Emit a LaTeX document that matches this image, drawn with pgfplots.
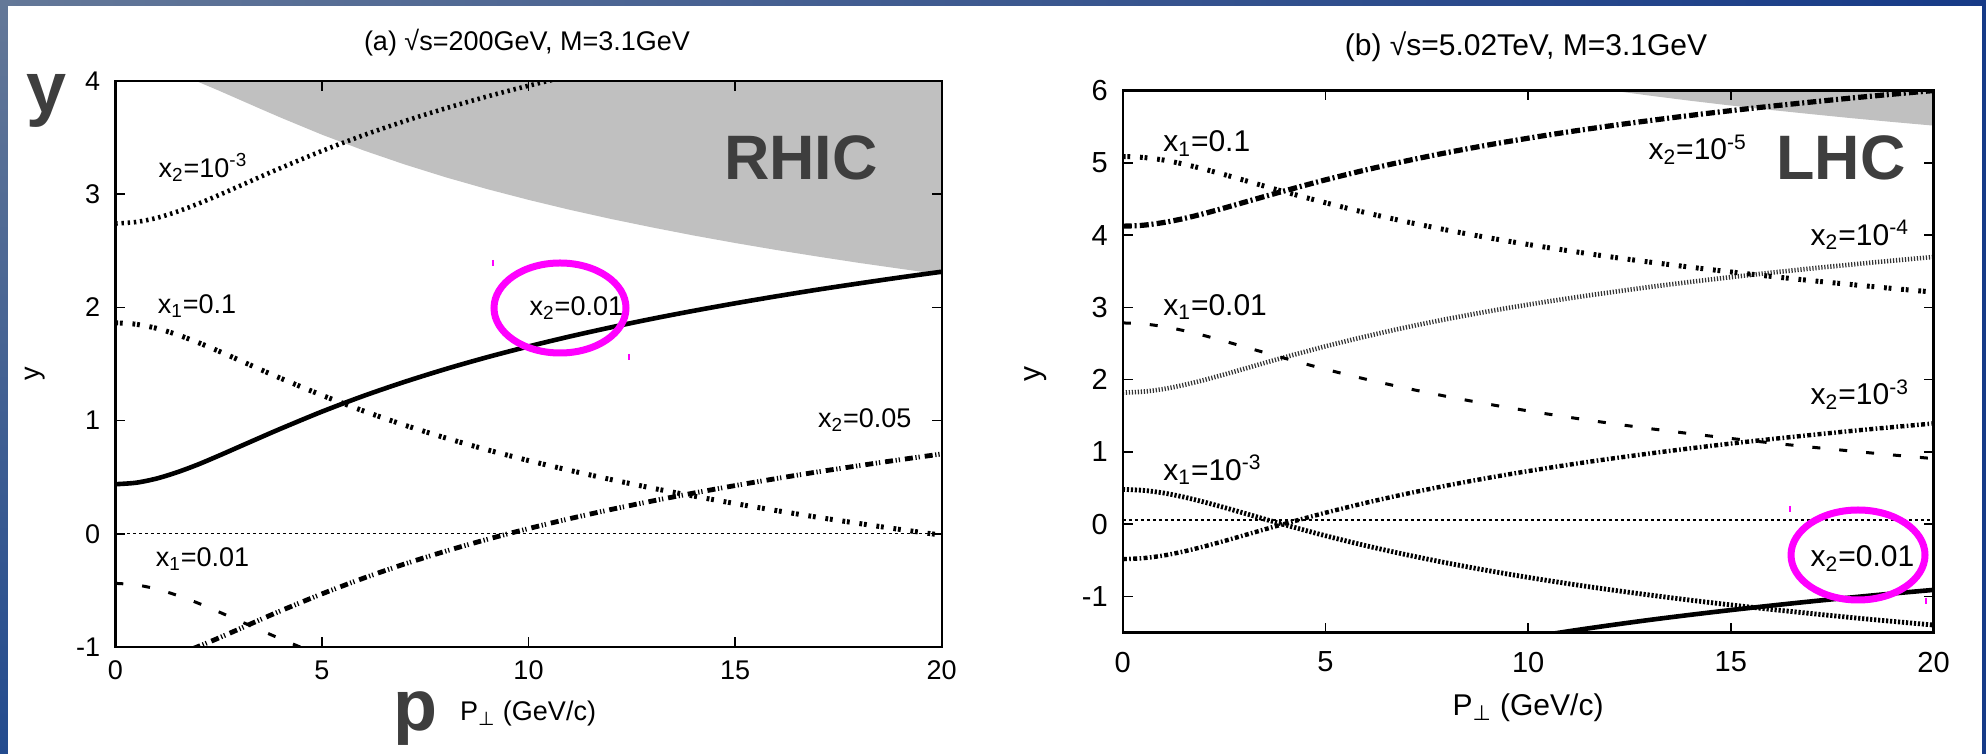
\documentclass[border=0pt]{standalone}
\usepackage{pgfplots}
\pgfplotsset{compat=1.18}
\usepackage{pgfplotstable}
\usepackage{fontspec}
\setmainfont{Liberation Sans}
\newfontfamily\dejavu{DejaVu Sans}
\definecolor{bgA}{RGB}{100,120,152}
\definecolor{bgB}{RGB}{22,58,135}
\definecolor{bgC}{RGB}{35,75,142}
\definecolor{shadegray}{RGB}{192,192,192}
\definecolor{big}{RGB}{62,62,62}
\definecolor{ring}{RGB}{255,0,255}
\newcommand\fa{\fontsize{13.5}{16}\selectfont}
\newcommand\fb{\fontsize{15}{18}\selectfont}

% P  x2=1e-3  x2=0.01  x2=0.05  x1=0.1  x1=0.01   (sqrt s = 200 GeV)
\pgfplotstableread{
P a b c d e
0 2.741 0.438 -1.171 1.864 -0.438
0.5 2.754 0.451 -1.158 1.851 -0.451
1 2.790 0.488 -1.122 1.815 -0.488
1.5 2.846 0.544 -1.066 1.759 -0.544
2 2.915 0.612 -0.997 1.690 -0.612
2.5 2.991 0.689 -0.921 1.614 -0.689
3 3.071 0.769 -0.841 1.534 -0.769
3.5 3.152 0.849 -0.760 1.453 -0.849
4 3.231 0.928 -0.681 1.374 -0.928
5 3.382 1.079 -0.531 1.224 -1.079
6 3.520 1.217 -0.393 1.086 -1.217
7 3.645 1.342 -0.267 0.960 -1.342
8 3.759 1.456 -0.153 0.846 -1.456
9 3.863 1.560 -0.049 0.742 -1.560
10 3.958 1.655 0.046 0.647 -1.655
11 4.046 1.743 0.134 0.560 -1.743
12 4.127 1.824 0.215 0.479 -1.824
13 4.202 1.900 0.290 0.403 -1.900
14 4.272 1.970 0.360 0.333 -1.970
15 4.338 2.036 0.426 0.267 -2.036
16 4.400 2.098 0.488 0.205 -2.098
17 4.459 2.157 0.547 0.146 -2.157
18 4.514 2.212 0.602 0.091 -2.212
19 4.567 2.265 0.655 0.038 -2.265
20 4.617 2.315 0.705 -0.012 -2.315
}\tabA

% P  x2=1e-5 x2=1e-4 x2=1e-3 x2=0.01 x1=0.1 x1=0.01 x1=1e-3  (sqrt s = 5.02 TeV)
\pgfplotstableread{
P a b c d e f g
0 4.123 1.821 -0.482 -2.785 5.087 2.785 0.482
0.5 4.136 1.834 -0.469 -2.772 5.074 2.772 0.469
1 4.173 1.870 -0.433 -2.735 5.038 2.735 0.433
1.5 4.228 1.926 -0.377 -2.679 4.982 2.679 0.377
2 4.297 1.995 -0.308 -2.611 4.913 2.611 0.308
2.5 4.374 2.071 -0.232 -2.534 4.837 2.534 0.232
3 4.454 2.151 -0.152 -2.454 4.757 2.454 0.152
3.5 4.534 2.232 -0.071 -2.374 4.676 2.374 0.071
4 4.613 2.311 0.008 -2.295 4.597 2.295 -0.008
5 4.764 2.461 0.159 -2.144 4.447 2.144 -0.159
6 4.902 2.599 0.297 -2.006 4.309 2.006 -0.297
7 5.027 2.725 0.422 -1.881 4.183 1.881 -0.422
8 5.141 2.839 0.536 -1.767 4.069 1.767 -0.536
9 5.245 2.943 0.640 -1.663 3.965 1.663 -0.640
10 5.340 3.038 0.735 -1.568 3.870 1.568 -0.735
11 5.428 3.125 0.823 -1.480 3.783 1.480 -0.823
12 5.509 3.206 0.904 -1.399 3.701 1.399 -0.904
13 5.584 3.282 0.979 -1.323 3.626 1.323 -0.979
14 5.655 3.352 1.050 -1.253 3.556 1.253 -1.050
15 5.721 3.418 1.116 -1.187 3.490 1.187 -1.116
16 5.783 3.480 1.178 -1.125 3.428 1.125 -1.178
17 5.841 3.539 1.236 -1.066 3.369 1.066 -1.236
18 5.897 3.594 1.292 -1.011 3.314 1.011 -1.292
19 5.949 3.647 1.344 -0.958 3.261 0.958 -1.344
20 5.999 3.697 1.394 -0.908 3.211 0.908 -1.394
}\tabB

\pgfplotsset{
  panel/.style={
    anchor=south west, scale only axis,
    xmin=0, xmax=20, xtick={0,5,10,15,20},
    tick align=inside, major tick length=5pt,
    axis line style={line width=1.2pt},
    every tick/.style={black, line width=0.8pt},
    /pgf/number format/assume math mode=true,
    axis on top, clip=true,
  },
}
\tikzset{lbl/.style={anchor=base west, inner sep=0pt},
  sq/.style={line width=2.5pt, dash pattern=on 1.4pt off 0.9pt on 1.4pt off 4.9pt},
  dsh/.style={line width=1.5pt, dash pattern=on 4pt off 9.5pt}}

\begin{document}
\begin{tikzpicture}[x=1pt,y=1pt]
% background frame
\shade[left color=bgA, right color=bgB] (0,0) rectangle (993,377);
\shade[top color=bgA, bottom color=bgC] (0,0) rectangle (4,377);
\fill[bgB] (991,0) rectangle (993,377);
\fill[white] (4,0) rectangle (991,374);

% ---------- panel (a) ----------
\begin{axis}[panel, at={(57.65pt,53.5pt)}, width=413.2pt, height=283pt,
  ymin=-1, ymax=4, ytick={-1,0,1,2,3,4},
  tick label style={font=\fa},
  xticklabel style={yshift=-3.5pt}, yticklabel style={xshift=-4pt}]
\addplot[fill=shadegray, draw=none] coordinates {
 (0,4.167) (0.5,4.154) (1,4.117) (1.5,4.062) (2,3.993) (2.5,3.916) (3,3.836)
 (3.5,3.756) (4,3.677) (5,3.526) (6,3.388) (7,3.263) (8,3.149) (9,3.045)
 (10,2.950) (11,2.862) (12,2.781) (13,2.706) (14,2.635) (15,2.569) (16,2.507)
 (17,2.449) (18,2.393) (19,2.341) (20,2.291) (20,4.6) (0,4.6)};
\addplot[black, line width=0.6pt, dash pattern=on 1.5pt off 1.5pt] coordinates {(0,0) (20,0)};
\addplot[black, smooth, line width=2.3pt, dash pattern=on 1.2pt off 1.9pt] table[x=P,y=a]{\tabA};
\addplot[black, smooth, line width=2.3pt] table[x=P,y=b]{\tabA};
\addplot[black, smooth, line width=2.4pt, dash pattern=on 4pt off 1.3pt on 0.6pt off 1pt on 0.6pt off 2.5pt] table[x=P,y=c]{\tabA};
\addplot[black, smooth, sq] table[x=P,y=d]{\tabA};
\addplot[black, smooth, dsh] table[x=P,y=e]{\tabA};
\node[lbl, font=\fa] at (axis cs:1.04,3.15) {x\textsubscript{2}=10\textsuperscript{-3}};
\node[lbl, font=\fa] at (axis cs:1.02,1.95) {x\textsubscript{1}=0.1};
\node[lbl, font=\fa] at (axis cs:10.02,1.93) {x\textsubscript{2}=0.01};
\node[lbl, font=\fa] at (axis cs:17.0,0.94) {x\textsubscript{2}=0.05};
\node[lbl, font=\fa] at (axis cs:0.97,-0.29) {x\textsubscript{1}=0.01};
\end{axis}

% ---------- panel (b) ----------
\begin{axis}[panel, at={(561.4pt,60.65pt)}, width=405.35pt, height=271.1pt,
  ymin=-1.5, ymax=6, ytick={-1,0,1,2,3,4,5,6},
  tick label style={font=\fontsize{14.5}{17}\selectfont},
  xticklabel style={yshift=-6pt}, yticklabel style={xshift=-4pt}]
\addplot[fill=shadegray, draw=none] coordinates {
 (11,6.085) (12,6.004) (13,5.929) (14,5.858) (15,5.792) (16,5.730)
 (17,5.672) (18,5.616) (19,5.564) (20,5.514) (20,6.5) (11,6.5)};
\addplot[black, line width=0.6pt, dash pattern=on 1.5pt off 1.5pt] coordinates {(0,0.06) (20,0.06)};
\addplot[black, smooth, line width=2.6pt, dash pattern=on 4.5pt off 1.4pt on 1pt off 1.6pt] table[x=P,y=a]{\tabB};
\addplot[black!80, smooth, line width=2.3pt, dash pattern=on 0.6pt off 0.9pt] table[x=P,y=b]{\tabB};
\addplot[black, smooth, line width=2.2pt, dash pattern=on 2pt off 1.2pt on 0.8pt off 1.2pt] table[x=P,y=c]{\tabB};
\addplot[black, smooth, line width=2.3pt] table[x=P,y=d]{\tabB};
\addplot[black, smooth, sq] table[x=P,y=e]{\tabB};
\addplot[black, smooth, dsh] table[x=P,y=f]{\tabB};
\addplot[black, smooth, line width=2.4pt, dash pattern=on 1.1pt off 0.9pt] table[x=P,y=g]{\tabB};
\node[lbl, font=\fb] at (axis cs:0.99,5.15) {x\textsubscript{1}=0.1};
\node[lbl, font=\fb] at (axis cs:12.96,5.04) {x\textsubscript{2}=10\textsuperscript{-5}};
\node[lbl, font=\fb] at (axis cs:16.96,3.86) {x\textsubscript{2}=10\textsuperscript{-4}};
\node[lbl, font=\fb] at (axis cs:0.99,2.89) {x\textsubscript{1}=0.01};
\node[lbl, font=\fb] at (axis cs:16.96,1.65) {x\textsubscript{2}=10\textsuperscript{-3}};
\node[lbl, font=\fb] at (axis cs:0.99,0.61) {x\textsubscript{1}=10\textsuperscript{-3}};
\node[lbl, font=\fb] at (axis cs:16.96,-0.59) {x\textsubscript{2}=0.01};
\end{axis}

% titles and axis labels
\node[font=\fa] at (263.5,355.75) {(a) √s=200GeV, M=3.1GeV};
\node[font=\fb] at (763,353.75) {(b) √s=5.02TeV, M=3.1GeV};
\node[font=\fa] at (264,20) {P\textsubscript{\dejavu ⊥} (GeV/c)};
\node[font=\fb] at (764,23) {P\textsubscript{\dejavu ⊥} (GeV/c)};
\node[font=\fa, rotate=90] at (17.5,190) {y};
\node[font=\fb, rotate=90] at (518,190) {y};

% overlay annotations
\node[font=\fontsize{31.4}{32}\selectfont\bfseries, text=big, anchor=base, inner sep=0] at (400.5,287) {RHIC};
\node[font=\fontsize{31.4}{32}\selectfont\bfseries, text=big, anchor=base, inner sep=0] at (920.5,287) {LHC};
\node[font=\fontsize{36}{36}\selectfont\bfseries, text=big, anchor=base, inner sep=0] at (23.5,320.5) {y};
\node[font=\fontsize{36}{36}\selectfont\bfseries, text=big, anchor=base, inner sep=0] at (207.75,11.5) {p};
\draw[ring, line width=3.5pt] (280,223) ellipse [x radius=33, y radius=22.5];
\draw[ring, line width=3.5pt] (929,99.5) ellipse [x radius=33.5, y radius=22.5];
\draw[ring, line width=0.6pt] (246.5,247) -- ++(0,-3);
\draw[ring, line width=0.6pt] (314.5,200) -- ++(0,-3);
\draw[ring, line width=0.6pt] (895,124) -- ++(0,-3);
\draw[ring, line width=0.6pt] (963,78) -- ++(0,-3);

\pgfresetboundingbox
\useasboundingbox (0,0) rectangle (993,377);
\end{tikzpicture}
\end{document}
